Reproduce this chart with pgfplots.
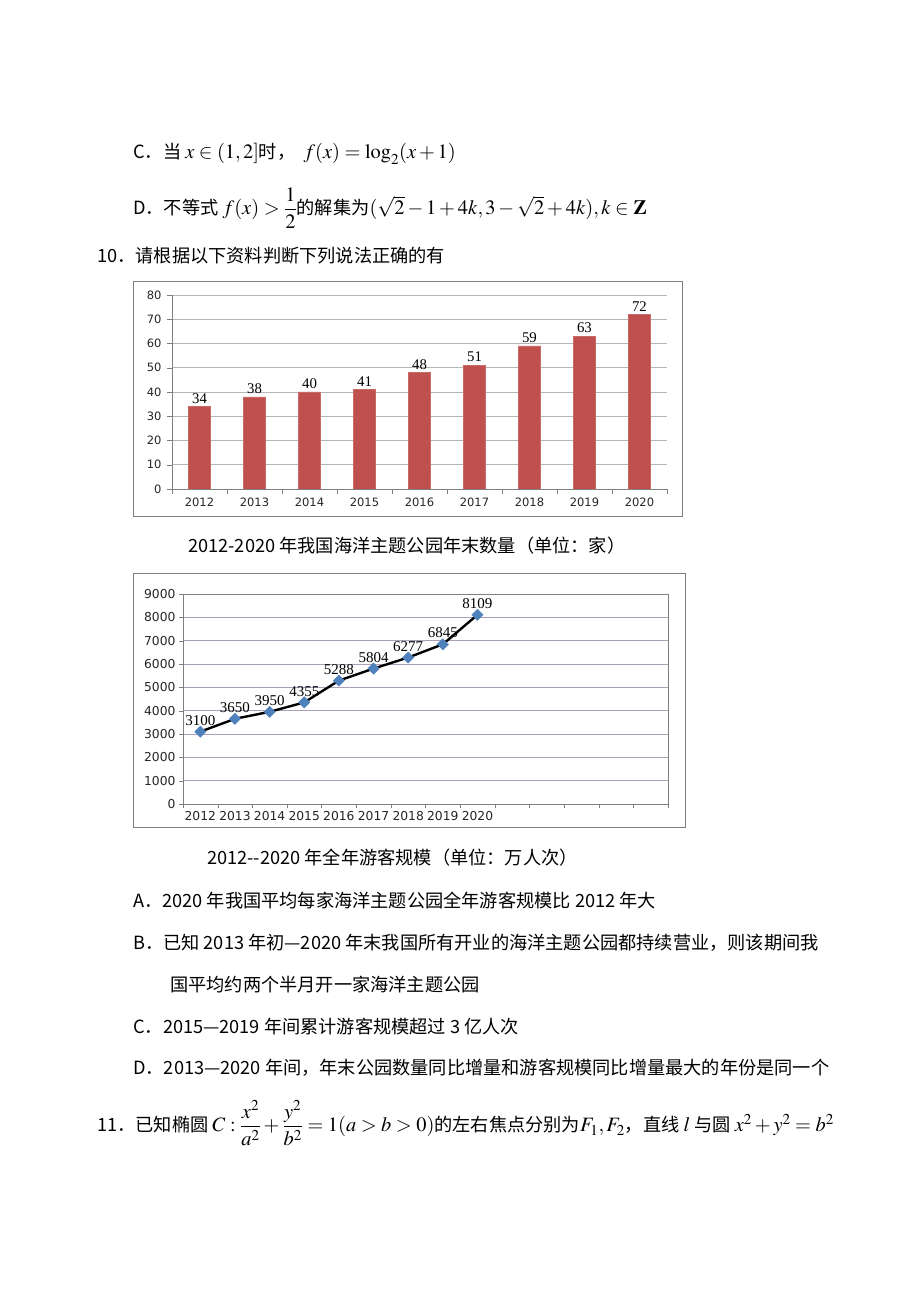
\documentclass[border=0pt]{standalone}
\usepackage{mathptmx}
\usepackage{amsmath}
\usepackage{pgfplots}
\pgfplotsset{compat=1.18}
\usepackage{fontspec}
\setmainfont{Liberation Serif}
\setsansfont{DejaVu Sans}
\newfontfamily\cjk{Noto Sans CJK SC}
\definecolor{barred}{RGB}{192,80,77}
\definecolor{mkblue}{RGB}{79,129,189}
\definecolor{gridgray}{RGB}{182,182,182}
\definecolor{gridpurple}{RGB}{172,158,182}
\definecolor{framegray}{RGB}{120,130,120}
\newcommand\tf{\cjk\fontsize{18.2}{22}\selectfont}
\newcommand\m[1]{{\fontsize{20.4}{24}\selectfont$#1$}}

\begin{document}
\begin{tikzpicture}[x=1pt,y=1pt]
\fill[white] (0,0) rectangle (920,1300);
\useasboundingbox (0,0) rectangle (920,1300);

% question text above the charts
\node[anchor=base west, inner sep=0, font=\tf] at (133,1141) {C．当 \m{x\in(1,2]}时，\ \ \m{f(x)=\log_2(x+1)}};
\node[anchor=base west, inner sep=0, font=\tf] at (133,1085) {D．不等式 \m{f(x)>\dfrac{1}{2}}的解集为\m{(\sqrt{2}-1+4k,3-\sqrt{2}+4k),k\in\mathbf{Z}}};
\node[anchor=base west, inner sep=0, font=\tf] at (97,1037) {10．请根据以下资料判断下列说法正确的有};

% frames round the two charts
\draw[framegray, line width=1pt] (133,1018) rectangle (682,783);
\draw[framegray, line width=1pt] (133,726) rectangle (685,472);

% bar chart: parks at year end
\begin{axis}[
  at={(172pt,811pt)}, anchor=south west,
  width=495pt, height=194pt, scale only axis,
  ybar, bar width=22pt,
  ymin=0, ymax=80, ytick={0,10,...,80},
  xmin=-0.5, xmax=8.5,
  xtick={-0.5,0.5,...,8.5}, x tick label as interval,
  xticklabels={2012,2013,2014,2015,2016,2017,2018,2019,2020},
  axis x line*=bottom, axis y line*=left,
  axis line style={gray, -},
  tick style={gray}, tick align=outside, major tick length=5pt,
  ymajorgrids, grid style={gridgray, line width=0.8pt},
  /pgf/number format/assume math mode=true,
  ticklabel style={font=\sffamily\fontsize{11.5}{13}\selectfont, text=black!85},
  yticklabel style={xshift=-2pt},
]
\addplot[fill=barred, draw=barred!85!white,
  nodes near coords,
  nodes near coords style={font=\rmfamily\fontsize{14.8}{16}\selectfont, text=black, anchor=south, inner sep=0pt, yshift=3pt}]
  coordinates {(0,34) (1,38) (2,40) (3,41) (4,48) (5,51) (6,59) (7,63) (8,72)};
\end{axis}

\node[anchor=base west, inner sep=0, font=\tf] at (188,747) {2012-2020 年我国海洋主题公园年末数量（单位：家）};

% line chart: visitors
\begin{axis}[
  at={(183pt,496pt)}, anchor=south west,
  width=485pt, height=210pt, scale only axis,
  ymin=0, ymax=9000, ytick={0,1000,...,9000},
  xmin=-0.5, xmax=13.5,
  xtick={-0.5,0.5,...,13.5}, x tick label as interval,
  xticklabels={2012,2013,2014,2015,2016,2017,2018,2019,2020},
  xtick pos=bottom, ytick pos=left,
  axis line style={gray},
  tick style={gray}, tick align=outside, major tick length=4pt,
  ymajorgrids, grid style={gridpurple, line width=0.8pt},
  /pgf/number format/assume math mode=true,
  /pgf/number format/set thousands separator={},
  ticklabel style={font=\sffamily\fontsize{12.3}{14}\selectfont, text=black!85},
  clip=false,
]
\addplot[black, line width=2.4pt, mark=square*, mark size=4pt,
  mark options={rotate=45, fill=mkblue, draw=mkblue, line width=0.4pt},
  nodes near coords,
  nodes near coords style={font=\rmfamily\fontsize{15}{16}\selectfont, text=black, anchor=south, inner sep=0pt, yshift=6pt, /pgf/number format/set thousands separator={}}]
  coordinates {(0,3100) (1,3650) (2,3950) (3,4355) (4,5288) (5,5804) (6,6277) (7,6845) (8,8109)};
\end{axis}

\node[anchor=base west, inner sep=0, font=\tf] at (207,435) {2012--2020 年全年游客规模（单位：万人次）};

% answer options
\node[anchor=base west, inner sep=0, font=\tf] at (133,392) {A．2020 年我国平均每家海洋主题公园全年游客规模比 2012 年大};
\node[anchor=base west, inner sep=0, font=\tf] at (133,350) {B．已知 2013 年初—2020 年末我国所有开业的海洋主题公园都持续营业，则该期间我};
\node[anchor=base west, inner sep=0, font=\tf] at (170,308) {国平均约两个半月开一家海洋主题公园};
\node[anchor=base west, inner sep=0, font=\tf] at (133,266) {C．2015—2019 年间累计游客规模超过 3 亿人次};
\node[anchor=base west, inner sep=0, font=\tf] at (133,225) {D．2013—2020 年间，年末公园数量同比增量和游客规模同比增量最大的年份是同一个};
\node[anchor=base west, inner sep=0, font=\tf] at (97,168) {11．已知椭圆 \m{C:\dfrac{x^2}{a^2}+\dfrac{y^2}{b^2}=1(a>b>0)}的左右焦点分别为\m{F_1,F_2}，直线 \m{l} 与圆 \m{x^2+y^2=b^2}};
\end{tikzpicture}
\end{document}
